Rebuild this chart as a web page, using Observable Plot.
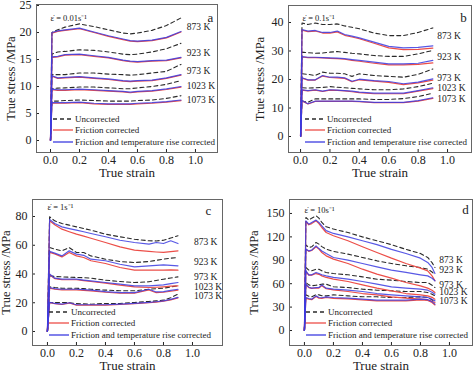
<!DOCTYPE html>
<html><head><meta charset="utf-8">
<script src="https://cdn.jsdelivr.net/npm/d3@7"></script>
<script src="https://cdn.jsdelivr.net/npm/@observablehq/plot@0.6"></script>
<style>
body{margin:0;background:#fff;}
#chart{position:relative;width:474px;height:374px;overflow:hidden;}
#chart svg{position:absolute;overflow:visible;}
</style></head><body><div id="chart"></div>
<script>
// ---------- shared labels ----------
const temps = ["873 K", "923 K", "973 K", "1023 K", "1073 K"];
const seriesNames = ["Uncorrected", "Friction corrected", "Friction and temperature rise corrected"];
const xTickValues = [0, 0.2, 0.4, 0.6, 0.8, 1.0];

// ---------- panel a : 0.01 s^-1 ----------
const strainA = [0, 0.01, 0.05, 0.1, 0.2, 0.3, 0.4, 0.5, 0.55, 0.6, 0.7, 0.8, 0.9];
const uncorrectedA = [
  [0, 20.0, 20.5, 21.0, 21.6, 21.1, 20.5, 19.9, 19.75, 19.9, 20.4, 21.3, 22.7],
  [0, 16.0, 16.4, 16.5, 16.8, 16.7, 16.4, 16.0, 15.9, 16.0, 16.4, 17.0, 18.0],
  [0, 12.2, 12.2, 12.2, 12.5, 12.5, 12.3, 12.2, 12.1, 12.2, 12.5, 12.8, 14.1],
  [0, 9.6, 9.7, 9.75, 9.9, 9.9, 9.75, 9.6, 9.6, 9.75, 10.0, 10.4, 11.1],
  [0, 7.3, 7.3, 7.4, 7.5, 7.4, 7.3, 7.3, 7.3, 7.4, 7.5, 7.8, 8.3]
];
const frictionA = [
  [0, 19.9, 20.2, 20.4, 20.7, 20.0, 19.3, 18.7, 18.4, 18.3, 18.5, 19.0, 20.1],
  [0, 15.4, 15.5, 15.8, 15.9, 15.6, 15.3, 14.8, 14.6, 14.5, 14.7, 14.8, 15.3],
  [0, 11.9, 11.5, 11.6, 11.75, 11.5, 11.3, 11.0, 10.9, 11.0, 11.1, 11.5, 12.1],
  [0, 9.4, 9.3, 9.3, 9.4, 9.3, 9.15, 9.0, 8.85, 9.0, 9.15, 9.45, 9.9],
  [0, 6.9, 6.9, 6.9, 7.0, 6.8, 6.7, 6.7, 6.7, 6.8, 6.9, 7.1, 7.4]
];
const thermalA = [
  [0, 20.0, 20.3, 20.5, 20.8, 20.1, 19.4, 18.8, 18.5, 18.4, 18.6, 19.1, 20.2],
  [0, 15.5, 15.6, 15.9, 16.0, 15.7, 15.4, 14.9, 14.7, 14.6, 14.8, 14.9, 15.4],
  [0, 12.0, 11.6, 11.7, 11.85, 11.6, 11.4, 11.1, 11.0, 11.1, 11.2, 11.6, 12.2],
  [0, 9.5, 9.4, 9.4, 9.5, 9.4, 9.25, 9.1, 8.95, 9.1, 9.25, 9.55, 10.0],
  [0, 7.0, 7.0, 7.0, 7.1, 6.9, 6.8, 6.8, 6.8, 6.9, 7.0, 7.2, 7.5]
];
const labelStressA = [21.1, 16.3, 12.8, 10.1, 7.6];
const yTicksA = [0, 5, 10, 15, 20, 25];

// ---------- panel b : 0.1 s^-1 ----------
const strainB = [0, 0.01, 0.05, 0.1, 0.15, 0.2, 0.25, 0.3, 0.35, 0.4, 0.5, 0.6, 0.7, 0.8, 0.9];
const uncorrectedB = [
  [0, 39.8, 39.3, 39.8, 39.3, 39.3, 39.5, 38.8, 38.3, 37.8, 36.3, 35.4, 35.4, 36.5, 38.1],
  [0, 29.6, 29.4, 29.2, 29.3, 29.6, 29.8, 29.5, 29.2, 29.0, 28.4, 28.1, 28.1, 29.0, 30.2],
  [0, 22.0, 21.8, 21.4, 22.6, 22.2, 22.2, 22.0, 21.1, 22.0, 21.4, 21.1, 20.8, 21.8, 23.7],
  [0, 17.1, 17.0, 17.1, 17.2, 17.5, 17.3, 17.1, 16.9, 16.7, 16.4, 16.4, 16.7, 17.5, 18.7],
  [0, 12.4, 12.0, 13.2, 13.2, 13.2, 13.2, 13.2, 13.2, 13.2, 13.0, 13.0, 13.3, 14.0, 15.2]
];
const frictionB = [
  [0, 37.3, 36.8, 37.0, 36.3, 36.3, 36.7, 35.5, 34.9, 34.3, 32.7, 31.1, 30.5, 30.6, 31.0],
  [0, 27.9, 27.7, 27.7, 27.6, 27.4, 27.3, 27.1, 26.7, 26.4, 25.7, 25.1, 25.1, 25.3, 25.8],
  [0, 20.5, 19.8, 19.8, 21.2, 20.7, 20.6, 20.4, 19.2, 19.9, 19.4, 19.0, 18.2, 18.8, 19.8],
  [0, 16.3, 16.0, 16.3, 15.8, 16.3, 16.2, 16.0, 15.7, 15.4, 15.0, 15.0, 15.0, 15.9, 16.8],
  [0, 12.5, 11.4, 12.3, 12.3, 12.3, 12.3, 12.3, 12.3, 12.2, 11.9, 11.9, 11.9, 12.4, 13.4]
];
const thermalB = [
  [0, 37.5, 37.0, 37.2, 36.5, 36.5, 37.0, 35.8, 35.2, 34.6, 33.1, 31.6, 31.1, 31.3, 31.8],
  [0, 28.0, 27.8, 27.8, 27.7, 27.6, 27.5, 27.3, 27.0, 26.7, 26.1, 25.5, 25.5, 25.7, 26.7],
  [0, 20.6, 19.9, 19.9, 21.4, 20.8, 20.8, 20.6, 19.4, 20.1, 19.6, 19.3, 18.5, 19.1, 20.2],
  [0, 16.4, 16.1, 16.4, 15.9, 16.4, 16.3, 16.1, 15.9, 15.6, 15.2, 15.2, 15.2, 16.1, 17.1],
  [0, 12.6, 11.5, 12.4, 12.4, 12.4, 12.4, 12.4, 12.4, 12.3, 12.0, 12.0, 12.0, 12.6, 13.6]
];
const labelStressB = [35.4, 28.0, 20.7, 17.2, 13.3];
const yTicksB = [0, 10, 20, 30, 40];

// ---------- panel c : 1 s^-1 ----------
const strainC = [0, 0.015, 0.05, 0.1, 0.15, 0.2, 0.25, 0.3, 0.4, 0.5, 0.6, 0.7, 0.75, 0.8, 0.85, 0.9];
const uncorrectedC = [
  [0, 79.8, 77.0, 75.1, 74.0, 72.8, 71.6, 70.5, 67.7, 65.9, 64.2, 63.1, 63.0, 63.5, 65.0, 66.6],
  [0, 58.4, 57.3, 56.1, 58.4, 55.0, 55.0, 52.6, 50.3, 48.7, 48.0, 48.7, 49.5, 50.3, 51.0, 51.5],
  [0, 38.7, 38.3, 38.0, 37.8, 37.6, 37.4, 37.1, 35.7, 34.8, 34.1, 34.6, 35.5, 36.4, 37.2, 38.0],
  [0, 31.1, 30.6, 30.1, 30.1, 30.1, 29.8, 29.4, 28.8, 28.3, 28.3, 29.4, 29.8, 30.1, 31.0, 31.8],
  [0, 20.2, 20.2, 20.2, 20.0, 19.5, 19.2, 19.0, 19.5, 19.5, 20.2, 20.9, 21.3, 21.8, 23.5, 26.0]
];
const frictionC = [
  [0, 77.0, 74.2, 71.2, 69.4, 67.7, 66.3, 64.9, 61.9, 58.9, 56.6, 55.7, 55.3, 55.0, 55.5, 56.1],
  [0, 55.0, 54.0, 51.9, 55.0, 52.6, 51.5, 49.2, 47.3, 44.5, 42.7, 42.7, 42.7, 42.7, 42.9, 42.7],
  [0, 39.5, 36.8, 36.0, 36.0, 36.0, 35.4, 34.8, 33.6, 32.2, 31.1, 30.6, 30.8, 31.1, 31.5, 31.8],
  [0, 30.2, 29.4, 29.0, 29.0, 29.0, 28.6, 28.3, 27.3, 26.6, 26.6, 28.9, 27.0, 27.3, 28.0, 28.8],
  [0, 20.0, 19.4, 18.8, 19.8, 18.4, 18.4, 18.4, 18.4, 18.8, 19.3, 20.0, 20.5, 21.1, 22.0, 23.4]
];
const thermalC = [
  [0, 78.0, 75.1, 72.8, 71.6, 70.5, 69.4, 68.2, 65.9, 63.5, 61.9, 60.8, 61.9, 61.2, 63.1, 61.2],
  [0, 55.7, 54.5, 52.6, 56.1, 53.8, 53.0, 50.3, 49.2, 46.8, 45.0, 45.7, 46.0, 46.4, 46.0, 45.7],
  [0, 40.0, 37.1, 36.4, 36.4, 36.4, 35.8, 35.2, 34.1, 32.9, 31.8, 31.8, 32.1, 32.5, 33.3, 34.1],
  [0, 30.6, 29.8, 29.4, 29.4, 29.4, 29.1, 28.8, 27.8, 27.1, 27.1, 29.4, 27.5, 27.8, 28.6, 29.4],
  [0, 20.2, 19.6, 19.0, 20.0, 18.6, 18.6, 18.6, 18.6, 19.0, 19.5, 20.2, 20.7, 21.3, 22.3, 23.7]
];
const labelStressC = [62.6, 48.7, 38.0, 31.1, 24.8];
const yTicksC = [0, 20, 40, 60, 80];

// ---------- panel d : 10 s^-1 ----------
const strainD = [0, 0.01, 0.03, 0.05, 0.08, 0.1, 0.12, 0.15, 0.2, 0.3, 0.4, 0.5, 0.6, 0.7, 0.8, 0.85, 0.88, 0.9];
const uncorrectedD = [
  [0, 144.9, 141.5, 144.0, 147.0, 144.0, 138.5, 133.0, 130.0, 125.6, 120.0, 115.0, 110.0, 104.0, 98.7, 93.6, 87.0, 80.8],
  [0, 109.8, 106.5, 107.3, 112.8, 110.7, 107.5, 104.3, 101.3, 97.9, 93.6, 89.3, 85.9, 82.9, 80.8, 78.6, 75.0, 71.4],
  [0, 80.8, 77.5, 76.5, 78.6, 78.6, 76.5, 74.4, 73.0, 71.4, 68.8, 65.8, 64.5, 62.8, 61.5, 61.5, 58.0, 55.1],
  [0, 61.5, 58.5, 57.3, 58.0, 58.5, 59.4, 59.4, 56.0, 55.1, 53.0, 51.7, 50.9, 50.0, 50.0, 48.7, 46.5, 44.4],
  [0, 45.7, 44.0, 43.2, 46.0, 45.7, 44.5, 44.4, 45.7, 44.4, 43.2, 43.2, 42.3, 42.3, 43.2, 42.5, 39.5, 35.9]
];
const frictionD = [
  [0, 139.7, 135.5, 137.0, 140.6, 137.0, 132.0, 125.6, 121.4, 115.0, 107.3, 100.0, 92.7, 85.9, 80.0, 76.5, 70.0, 63.7],
  [0, 104.3, 101.5, 102.5, 107.3, 104.3, 100.0, 95.7, 91.5, 85.9, 78.6, 72.2, 67.1, 61.5, 57.3, 54.3, 51.5, 48.7],
  [0, 75.6, 71.0, 71.0, 73.0, 72.0, 70.0, 68.0, 65.8, 62.8, 58.5, 54.3, 50.9, 47.4, 45.7, 44.4, 42.5, 40.2],
  [0, 58.8, 55.0, 54.0, 54.5, 54.3, 57.5, 53.5, 52.0, 50.0, 47.4, 45.7, 43.2, 41.5, 40.2, 39.5, 37.5, 35.9],
  [0, 41.5, 40.3, 39.5, 43.5, 41.5, 41.2, 42.3, 41.3, 40.5, 39.2, 37.9, 37.9, 37.9, 39.2, 38.5, 36.0, 32.8]
];
const thermalD = [
  [0, 140.6, 136.3, 138.5, 141.5, 138.5, 134.2, 128.0, 124.4, 120.0, 115.0, 110.0, 104.0, 98.7, 92.7, 87.2, 80.8, 73.0],
  [0, 104.3, 102.0, 103.0, 108.5, 105.0, 102.0, 98.7, 93.6, 90.2, 85.9, 81.6, 77.4, 74.4, 71.4, 70.0, 67.0, 63.7],
  [0, 76.5, 71.4, 71.4, 74.4, 73.0, 71.5, 70.0, 68.0, 65.8, 62.8, 59.4, 56.0, 54.3, 53.0, 51.7, 49.0, 46.6],
  [0, 59.4, 55.5, 54.3, 55.0, 55.1, 58.5, 54.3, 53.0, 51.7, 50.0, 47.4, 45.7, 44.4, 43.2, 42.3, 40.0, 38.0],
  [0, 42.3, 41.0, 40.2, 44.4, 42.3, 42.0, 43.2, 42.3, 41.5, 40.2, 38.9, 38.9, 38.9, 40.2, 39.5, 37.0, 33.8]
];
const labelStressD = [91, 77, 59, 49, 38];
const yTicksD = [0, 30, 60, 90, 120, 150];

// ---------- styling ----------
const FONT = "'Liberation Serif', 'Times New Roman', serif";
const RED = "#ec4e48";
const BLUE = "#3b3be0";
const DASH = "#2a2a2a";

const panels = [
  {id: "a", rate: "ε̇ = 0.01s⁻¹", left: 0, top: 0, m: [4, 20, 35, 36],
   xDomain: [-0.0966, 1.152], yDomain: [-2.22, 25.19], yTicks: yTicksA,
   strain: strainA, U: uncorrectedA, F: frictionA, T: thermalA, labelY: labelStressA, labelX: 0.94,
   rateD: [14, 10], letterD: [-7, 8], yLabDx: -26, xLabDy: 24},
  {id: "b", rate: "ε̇ = 0.1s⁻¹", left: 237, top: 0, m: [5, 3, 35, 51],
   xDomain: [-0.082, 1.163], yDomain: [-5.61, 45.96], yTicks: yTicksB,
   strain: strainB, U: uncorrectedB, F: frictionB, T: thermalB, labelY: labelStressB, labelX: 0.93,
   rateD: [14, 9], letterD: [-8, 7], yLabDx: -29, xLabDy: 24},
  {id: "c", rate: "ε̇ = 1s⁻¹", left: 0, top: 187, m: [12, 15, 29, 32],
   xDomain: [-0.103, 1.207], yDomain: [-9.74, 91.83], yTicks: yTicksC,
   strain: strainC, U: uncorrectedC, F: frictionC, T: thermalC, labelY: labelStressC, labelX: 1.01,
   rateD: [15, 4], letterD: [-14, 6], yLabDx: -27, xLabDy: 24},
  {id: "d", rate: "ε̇ = 10s⁻¹", left: 237, top: 187, m: [12, 2, 29, 52],
   xDomain: [-0.103, 1.159], yDomain: [-19.2, 167.9], yTicks: yTicksD,
   strain: strainD, U: uncorrectedD, F: frictionD, T: thermalD, labelY: labelStressD, labelX: 0.93,
   rateD: [15, 7], letterD: [-7, 5], yLabDx: -36, xLabDy: 24}
];

function rows(strain, series) {
  const out = [];
  series.forEach((vals, i) => vals.forEach((v, j) => out.push({temp: temps[i], strain: strain[j], stress: v})));
  return out;
}

function legendMark() {
  return (index, scales, values, dims) => {
    const {marginLeft, height, marginBottom} = dims;
    const base = height - marginBottom;
    const g = d3.create("svg:g").attr("font-family", FONT).attr("font-size", 9)
      .attr("fill", "#222").attr("text-anchor", "start");
    const specs = [
      {off: 33, stroke: DASH, dash: "4,3"},
      {off: 22, stroke: RED, dash: null},
      {off: 10, stroke: BLUE, dash: null}
    ];
    specs.forEach((s, i) => {
      const y = base - s.off;
      const ln = g.append("line").attr("x1", marginLeft + 17).attr("x2", marginLeft + 37)
        .attr("y1", y).attr("y2", y).attr("stroke", s.stroke).attr("stroke-width", 1.3);
      if (s.dash) ln.attr("stroke-dasharray", s.dash);
      g.append("text").attr("x", marginLeft + 39).attr("y", y).attr("dy", "0.32em")
        .attr("text-anchor", "start").text(seriesNames[i]);
    });
    return g.node();
  };
}

const root = document.getElementById("chart");
panels.forEach(p => {
  const [mt, mr, mb, ml] = p.m;
  const chart = Plot.plot({
    width: 237, height: 187,
    marginTop: mt, marginRight: mr, marginBottom: mb, marginLeft: ml,
    style: {fontFamily: FONT, fontSize: "12px", color: "#222", background: "transparent", overflow: "visible"},
    x: {domain: p.xDomain, ticks: xTickValues, tickFormat: d3.format(".1f"), tickSize: -3, tickPadding: 6, label: null},
    y: {domain: p.yDomain, ticks: p.yTicks, tickSize: -3, tickPadding: 8, label: null},
    marks: [
      Plot.line(rows(p.strain, p.U), {x: "strain", y: "stress", z: "temp", stroke: DASH, strokeWidth: 1.1, strokeDasharray: "4,3"}),
      Plot.line(rows(p.strain, p.F), {x: "strain", y: "stress", z: "temp", stroke: RED, strokeWidth: 1.2}),
      Plot.line(rows(p.strain, p.T), {x: "strain", y: "stress", z: "temp", stroke: BLUE, strokeWidth: 1.2, strokeOpacity: 0.85}),
      Plot.frame({stroke: "#666", strokeWidth: 1}),
      Plot.text(temps, {x: () => p.labelX, y: (d, i) => p.labelY[i], text: d => d, textAnchor: "start", fontSize: 9.5, fill: "#222"}),
      Plot.text([p.rate], {frameAnchor: "top-left", dx: p.rateD[0], dy: p.rateD[1], textAnchor: "start", fontSize: 8.5, fill: "#222"}),
      Plot.text([p.id], {frameAnchor: "top-right", dx: p.letterD[0], dy: p.letterD[1], textAnchor: "middle", fontSize: 13, fill: "#222"}),
      Plot.text(["True stress /MPa"], {frameAnchor: "left", dx: p.yLabDx, rotate: -90, textAnchor: "middle", fontSize: 12.5, fill: "#222"}),
      Plot.text(["True strain"], {frameAnchor: "bottom", dy: p.xLabDy, textAnchor: "middle", fontSize: 13, fill: "#222"}),
      legendMark()
    ]
  });
  chart.style.left = p.left + "px";
  chart.style.top = p.top + "px";
  root.appendChild(chart);
});
</script>
</body></html>
